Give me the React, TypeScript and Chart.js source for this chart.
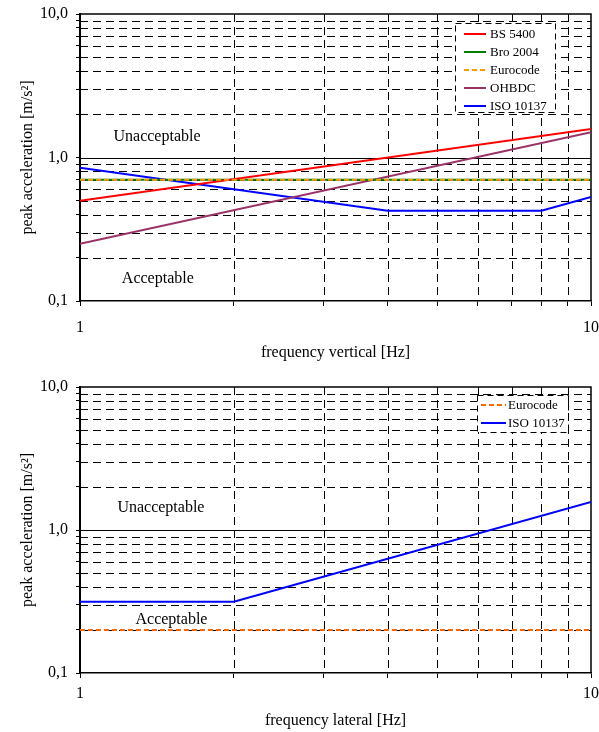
import React, { useEffect, useRef } from 'react';
import { Chart, registerables } from 'chart.js';

Chart.register(...registerables);

const FONT = '"Liberation Serif", "Times New Roman", serif';

// ---- Vertical (top chart) data: frequency [Hz] / peak acceleration [m/s2]
const vBSFreq = [1, 10];
const vBSAcc = [0.5, 1.58];
const vBroFreq = [1, 10];
const vBroAcc = [0.7, 0.7];
const vEuroFreq = [1, 10];
const vEuroAcc = [0.7, 0.7];
const vOHFreq = [1, 10];
const vOHAcc = [0.25, 1.5];
const vISOFreq = [1, 4, 8, 10];
const vISOAcc = [0.85, 0.425, 0.425, 0.53];

// ---- Lateral (bottom chart) data
const lEuroFreq = [1, 10];
const lEuroAcc = [0.2, 0.2];
const lISOFreq = [1, 2, 10];
const lISOAcc = [0.315, 0.315, 1.57];

// ---- tick positions and labels
const xTickPositions = [1, 2, 3, 4, 5, 6, 7, 8, 9, 10];
const yTickPositions = [0.1, 0.2, 0.3, 0.4, 0.5, 0.6, 0.7, 0.8, 0.9, 1, 2, 3, 4, 5, 6, 7, 8, 9, 10];
const yTickValues = [0.1, 1, 10];
const yTickTexts = ['0,1', '1,0', '10,0'];
const xTickValues = [1, 10];
const xTickTexts = ['1', '10'];

const labelFor = (v: number, vals: number[], texts: string[]) => {
  for (let i = 0; i < vals.length; i++) {
    if (Math.abs(v - vals[i]) < 1e-9 * Math.max(1, vals[i])) return texts[i];
  }
  return '';
};

const pts = (xs: number[], ys: number[]) => xs.map((x, i) => ({ x, y: ys[i] }));

const gridPlugin = {
  id: 'customGrid',
  beforeDatasetsDraw(chart: any) {
    const { ctx, chartArea, scales } = chart;
    const { left, right, top, bottom } = chartArea;
    const x = scales.x;
    const y = scales.y;
    ctx.save();
    ctx.lineWidth = 1;
    ctx.strokeStyle = '#000';
    y.ticks.forEach((t: any) => {
      if (t.value <= y.min * 1.0001 || t.value >= y.max * 0.9999) return;
      const py = Math.round(y.getPixelForValue(t.value)) + 0.5;
      ctx.setLineDash(Math.abs(t.value - 1) < 1e-9 ? [] : [8, 5]);
      ctx.beginPath();
      ctx.moveTo(left, py);
      ctx.lineTo(right, py);
      ctx.stroke();
    });
    x.ticks.forEach((t: any) => {
      if (t.value <= x.min * 1.0001 || t.value >= x.max * 0.9999) return;
      const px = Math.round(x.getPixelForValue(t.value)) + 0.5;
      ctx.setLineDash([8, 5]);
      ctx.beginPath();
      ctx.moveTo(px, top);
      ctx.lineTo(px, bottom);
      ctx.stroke();
    });
    ctx.setLineDash([]);
    ctx.lineWidth = 1.5;
    ctx.beginPath();
    ctx.moveTo(left, top);
    ctx.lineTo(right, top);
    ctx.lineTo(right, bottom);
    ctx.stroke();
    ctx.restore();
  },
};

const textPlugin = {
  id: 'zoneText',
  afterDatasetsDraw(chart: any, _args: any, opts: any) {
    const { ctx, scales } = chart;
    if (!opts || !opts.items) return;
    ctx.save();
    ctx.fillStyle = '#000';
    ctx.font = `16px ${FONT}`;
    ctx.textAlign = 'center';
    ctx.textBaseline = 'middle';
    opts.items.forEach((it: any) => {
      ctx.fillText(it.text, scales.x.getPixelForValue(it.f), scales.y.getPixelForValue(it.a));
    });
    ctx.restore();
  },
};

const legendPlugin = {
  id: 'boxLegend',
  afterDraw(chart: any, _args: any, opts: any) {
    if (!opts || !opts.items) return;
    const { ctx } = chart;
    const { left, top, width, height, rowStart, rowGap, lineX, lineLen, textX } = opts;
    ctx.save();
    ctx.fillStyle = '#fff';
    ctx.fillRect(left, top, width, height);
    ctx.strokeStyle = '#000';
    ctx.lineWidth = 1;
    ctx.setLineDash([6, 4]);
    ctx.strokeRect(left + 0.5, top + 0.5, width, height);
    ctx.font = `13px ${FONT}`;
    ctx.textAlign = 'left';
    ctx.textBaseline = 'middle';
    opts.items.forEach((it: any, i: number) => {
      const yy = top + rowStart + i * rowGap;
      ctx.strokeStyle = it.color;
      ctx.lineWidth = 2;
      ctx.setLineDash(it.dash || []);
      ctx.beginPath();
      ctx.moveTo(left + lineX, yy);
      ctx.lineTo(left + lineX + lineLen, yy);
      ctx.stroke();
      ctx.fillStyle = '#000';
      ctx.fillText(it.label, left + textX, yy + 1);
    });
    ctx.restore();
  },
};

type Cfg = {
  datasets: any[];
  xTitle: string;
  padTop: number;
  xAxisHeight: number;
  xTickPad: number;
  xTitlePadBottom: number;
  zone: any[];
  legend: any;
};

function makeConfig(c: Cfg): any {
  return {
    type: 'line',
    data: { datasets: c.datasets },
    plugins: [gridPlugin, textPlugin, legendPlugin],
    options: {
      animation: false,
      responsive: false,
      events: [],
      layout: { padding: { top: c.padTop, right: 0, left: 0, bottom: 0 } },
      elements: { point: { radius: 0 }, line: { tension: 0 } },
      plugins: {
        legend: { display: false },
        tooltip: { enabled: false },
        zoneText: { items: c.zone },
        boxLegend: c.legend,
      },
      scales: {
        x: {
          type: 'logarithmic',
          min: 1,
          max: 10,
          afterBuildTicks: (s: any) => { s.ticks = xTickPositions.map((v) => ({ value: v })); },
          afterFit: (s: any) => {
            s.height = c.xAxisHeight;
            s.paddingLeft = 0;
            s.paddingRight = 8;
          },
          border: { display: true, color: '#000', width: 1.5 },
          grid: { drawOnChartArea: false, drawTicks: true, tickLength: 5, tickColor: '#000', color: '#000' },
          ticks: {
            autoSkip: false,
            maxRotation: 0,
            padding: c.xTickPad,
            color: '#000',
            font: { family: FONT, size: 16 },
            callback: (v: any) => labelFor(Number(v), xTickValues, xTickTexts),
          },
          title: {
            display: true,
            text: c.xTitle,
            color: '#000',
            font: { family: FONT, size: 16 },
            padding: { top: 0, bottom: c.xTitlePadBottom },
          },
        },
        y: {
          type: 'logarithmic',
          min: 0.1,
          max: 10,
          afterBuildTicks: (s: any) => { s.ticks = yTickPositions.map((v) => ({ value: v })); },
          afterFit: (s: any) => {
            s.width = 80;
            s.paddingTop = 0;
            s.paddingBottom = 0;
          },
          border: { display: true, color: '#000', width: 2 },
          grid: { drawOnChartArea: false, drawTicks: true, tickLength: 4, tickColor: '#000', color: '#000' },
          ticks: {
            autoSkip: false,
            padding: 8,
            color: '#000',
            font: { family: FONT, size: 16 },
            callback: (v: any) => labelFor(Number(v), yTickValues, yTickTexts),
          },
          title: {
            display: true,
            text: 'peak acceleration [m/s²]',
            color: '#000',
            font: { family: FONT, size: 16 },
            padding: { top: 18, bottom: 0 },
          },
        },
      },
    },
  };
}

const line = (label: string, xs: number[], ys: number[], color: string, dash: number[] = [], order = 1) => ({
  label,
  data: pts(xs, ys),
  borderColor: color,
  backgroundColor: color,
  borderWidth: 2,
  borderDash: dash,
  fill: false,
  order,
});

export default function App() {
  const topRef = useRef<HTMLCanvasElement>(null);
  const botRef = useRef<HTMLCanvasElement>(null);

  useEffect(() => {
    document.body.style.margin = '0';
    const top = new Chart(
      topRef.current!,
      makeConfig({
        datasets: [
          line('BS 5400', vBSFreq, vBSAcc, '#ff0000'),
          line('Bro 2004', vBroFreq, vBroAcc, '#008000'),
          line('Eurocode', vEuroFreq, vEuroAcc, '#ff9900', [5, 3], 0),
          line('OHBDC', vOHFreq, vOHAcc, '#993366'),
          line('ISO 10137', vISOFreq, vISOAcc, '#0000ff'),
        ],
        xTitle: 'frequency vertical [Hz]',
        padTop: 14,
        xAxisHeight: 65,
        xTickPad: 12,
        xTitlePadBottom: 4,
        zone: [
          { text: 'Unacceptable', f: 1.415, a: 1.4 },
          { text: 'Acceptable', f: 1.42, a: 0.1435 },
        ],
        legend: {
          items: [
            { label: 'BS 5400', color: '#ff0000' },
            { label: 'Bro 2004', color: '#008000' },
            { label: 'Eurocode', color: '#ff9900', dash: [5, 3] },
            { label: 'OHBDC', color: '#993366' },
            { label: 'ISO 10137', color: '#0000ff' },
          ],
          left: 455, top: 23, width: 100, height: 89,
          rowStart: 11, rowGap: 18, lineX: 9, lineLen: 22, textX: 35,
        },
      })
    );
    const bot = new Chart(
      botRef.current!,
      makeConfig({
        datasets: [
          line('Eurocode', lEuroFreq, lEuroAcc, '#ff6600', [5, 3], 0),
          line('ISO 10137', lISOFreq, lISOAcc, '#0000ff'),
        ],
        xTitle: 'frequency lateral [Hz]',
        padTop: 21,
        xAxisHeight: 59,
        xTickPad: 6,
        xTitlePadBottom: 2,
        zone: [
          { text: 'Unacceptable', f: 1.44, a: 1.43 },
          { text: 'Acceptable', f: 1.51, a: 0.235 },
        ],
        legend: {
          items: [
            { label: 'Eurocode', color: '#ff6600', dash: [5, 3] },
            { label: 'ISO 10137', color: '#0000ff' },
          ],
          left: 477, top: 29, width: 91, height: 37,
          rowStart: 10, rowGap: 18, lineX: 4, lineLen: 25, textX: 31,
        },
      })
    );
    return () => {
      top.destroy();
      bot.destroy();
    };
  }, []);

  return (
    <div style={{ width: 599, height: 732, background: '#fff' }}>
      <canvas ref={topRef} width={599} height={366} style={{ display: 'block' }} />
      <canvas ref={botRef} width={599} height={366} style={{ display: 'block' }} />
    </div>
  );
}
